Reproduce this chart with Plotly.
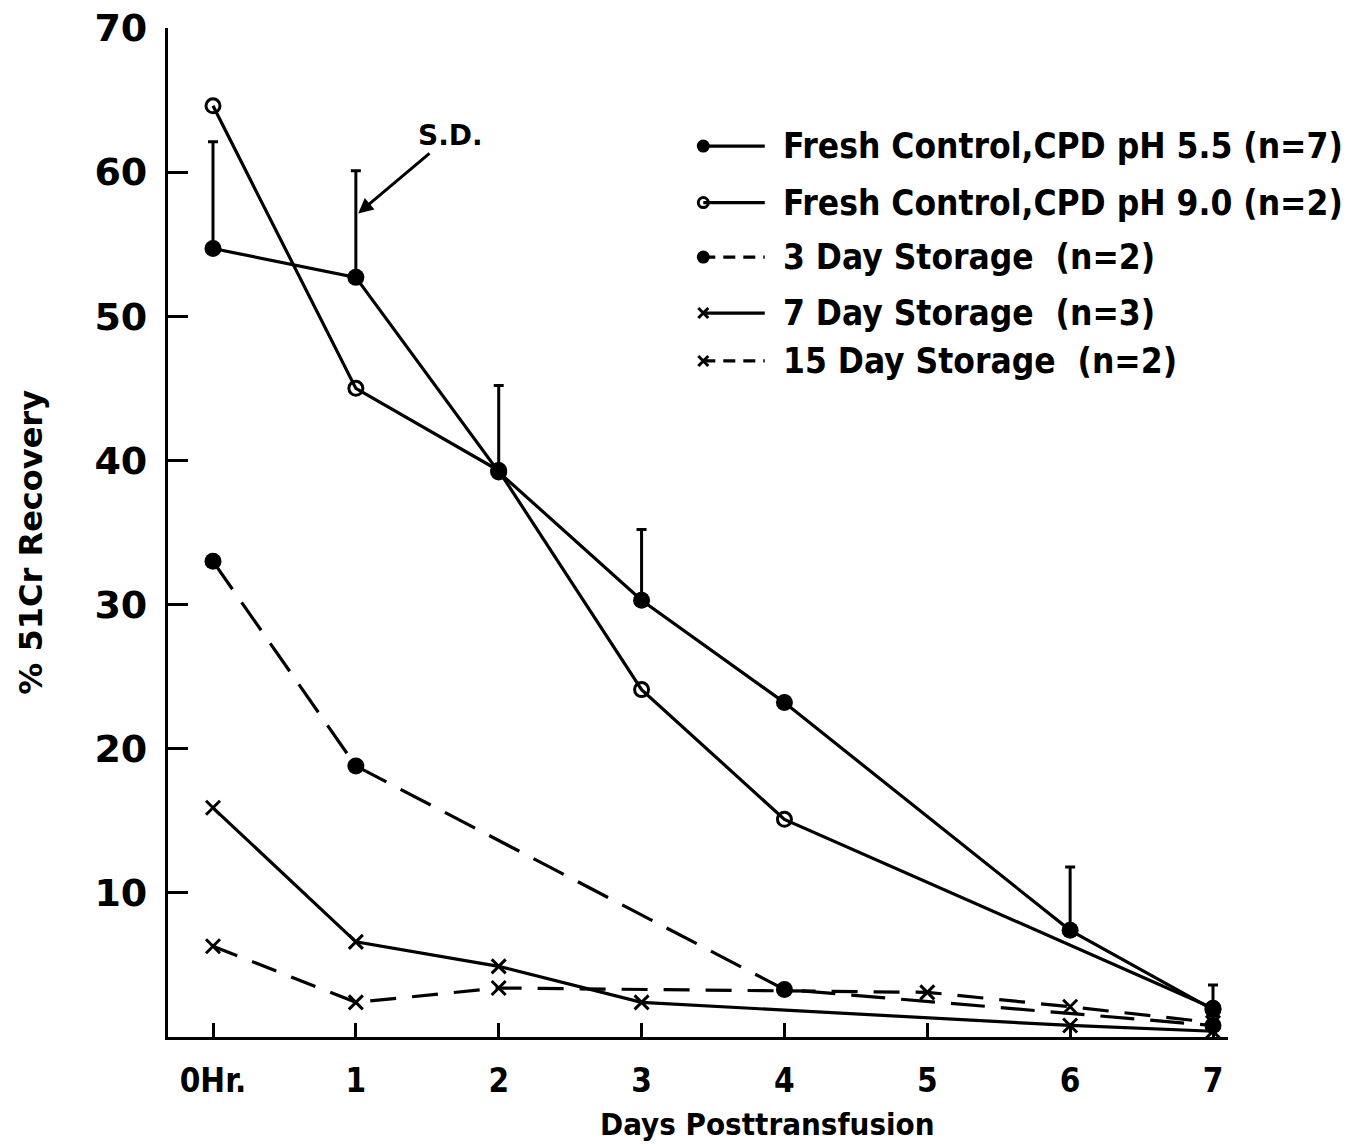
import plotly.graph_objects as go

# ---- data ----
tick_days = [0, 1, 2, 3, 4, 5, 6, 7]
tick_labels = ["0Hr.", "1", "2", "3", "4", "5", "6", "7"]

fresh55_days = [0, 1, 2, 3, 4, 6, 7]
fresh55_vals = [54.7, 52.7, 39.2, 30.3, 23.2, 7.4, 1.9]
fresh55_sd = [7.4, 7.4, 6.0, 4.9, 0.0, 4.4, 1.7]

fresh90_days = [0, 1, 2, 3, 4, 7]
fresh90_vals = [64.6, 45.0, 39.3, 24.1, 15.1, 2.0]

day3_days = [0, 1, 4, 7]
day3_vals = [33.0, 18.8, 3.3, 0.8]

day7_days = [0, 1, 2, 3, 6, 7]
day7_vals = [15.9, 6.6, 4.9, 2.4, 0.8, 0.4]

day15_days = [0, 1, 2, 5, 6, 7]
day15_vals = [6.3, 2.4, 3.4, 3.1, 2.1, 1.0]

legend_names = [
    "Fresh Control,CPD pH 5.5 (n=7)",
    "Fresh Control,CPD pH 9.0 (n=2)",
    "3 Day Storage  (n=2)",
    "7 Day Storage  (n=3)",
    "15 Day Storage  (n=2)",
]

y_ticks = [10, 20, 30, 40, 50, 60, 70]

# ---- styles ----
NARROW = "Liberation Sans Narrow, Arial Narrow, DejaVu Sans Condensed, DejaVu Sans, sans-serif"
WIDE = "DejaVu Sans, Verdana, sans-serif"
BLACK = "black"
LW = 3.2

filled = dict(symbol="circle", size=17, color=BLACK)
opened = dict(symbol="circle-open", size=14, color=BLACK, line=dict(width=3, color=BLACK))
cross = dict(symbol="x-thin-open", size=14, color=BLACK, line=dict(width=3, color=BLACK))

series = [
    (fresh55_days, fresh55_vals, filled, "solid"),
    (fresh90_days, fresh90_vals, opened, "solid"),
    (day3_days, day3_vals, filled, "34px,16px"),
    (day7_days, day7_vals, cross, "solid"),
    (day15_days, day15_vals, cross, "26px,16px"),
]
legend_dash = ["solid", "solid", "12px,8px", "solid", "12px,8px"]

fig = go.Figure()

for i, (xs, ys, mk, dash) in enumerate(series):
    kw = {}
    if i == 0:
        kw["error_y"] = dict(type="data", symmetric=False, array=fresh55_sd,
                             arrayminus=[0] * len(fresh55_sd), color=BLACK,
                             thickness=3, width=5)
    fig.add_trace(go.Scatter(x=xs, y=ys, mode="lines+markers",
                             line=dict(color=BLACK, width=LW, dash=dash),
                             marker=mk, showlegend=False, **kw))

# ---- custom legend (overlay axes in 0..1 units) ----
leg_x0, leg_x1, leg_tx = 0.505, 0.563, 0.578
leg_rows = [0.883, 0.827, 0.773, 0.7175, 0.670]
for i, name in enumerate(legend_names):
    yy = leg_rows[i]
    mk = dict(series[i][2])
    fig.add_trace(go.Scatter(x=[leg_x0, leg_x1], y=[yy, yy], mode="lines",
                             line=dict(color=BLACK, width=LW, dash=legend_dash[i]),
                             xaxis="x2", yaxis="y2", showlegend=False))
    fig.add_trace(go.Scatter(x=[leg_x0], y=[yy], mode="markers",
                             marker=dict(mk, size=mk["size"] - 4),
                             xaxis="x2", yaxis="y2", showlegend=False))
    fig.add_annotation(x=leg_tx, y=yy, xref="x2", yref="y2", text=name,
                       showarrow=False, xanchor="left", yanchor="middle",
                       font=dict(family=NARROW, size=35, color=BLACK, weight="bold"))

# S.D. label with arrow
fig.add_annotation(x=1.0, y=57.0, xref="x", yref="y", text="S.D.",
                   showarrow=True, arrowhead=2, arrowsize=1, arrowwidth=3,
                   arrowcolor=BLACK, ax=95, ay=-80, standoff=3,
                   font=dict(family=WIDE, size=28, color=BLACK, weight="bold"))

# axis titles
fig.add_annotation(x=3.88, y=-0.086, xref="x", yref="paper", text="Days Posttransfusion",
                   showarrow=False, yanchor="middle",
                   font=dict(family=NARROW, size=31, color=BLACK, weight="bold"))
fig.add_annotation(x=-0.149, y=0.49, xref="paper", yref="paper", text="% 51Cr Recovery",
                   textangle=-90, showarrow=False,
                   font=dict(family=WIDE, size=32, color=BLACK, weight="bold"))

fig.update_layout(
    width=1361, height=1148,
    margin=dict(l=168, r=133, t=28, b=111, autoexpand=False),
    paper_bgcolor="white", plot_bgcolor="white",
    xaxis=dict(range=[-0.315, 7.105], tickvals=tick_days, ticktext=tick_labels,
               showgrid=False, zeroline=False, showline=True, linecolor=BLACK,
               linewidth=LW, ticks="inside", ticklen=14, tickwidth=LW, tickcolor=BLACK,
               ticklabelstandoff=12, automargin=False,
               tickfont=dict(family=NARROW, size=33, color=BLACK, weight="bold")),
    yaxis=dict(range=[0, 70], tickvals=y_ticks, showgrid=False, zeroline=False,
               showline=True, linecolor=BLACK, linewidth=LW, ticks="inside",
               ticklen=20, tickwidth=LW, tickcolor=BLACK, ticklabelstandoff=10,
               ticklabeloverflow="allow", automargin=False,
               tickfont=dict(family=WIDE, size=38, color=BLACK, weight="bold")),
    xaxis2=dict(overlaying="x", range=[0, 1], visible=False),
    yaxis2=dict(overlaying="y", range=[0, 1], visible=False),
)

# remove the page's default 8px body margin so the figure fills the window exactly
fig.write_html("out.html", config={"displayModeBar": False},
               post_script="document.body.style.margin='0';document.body.style.overflow='hidden';")
